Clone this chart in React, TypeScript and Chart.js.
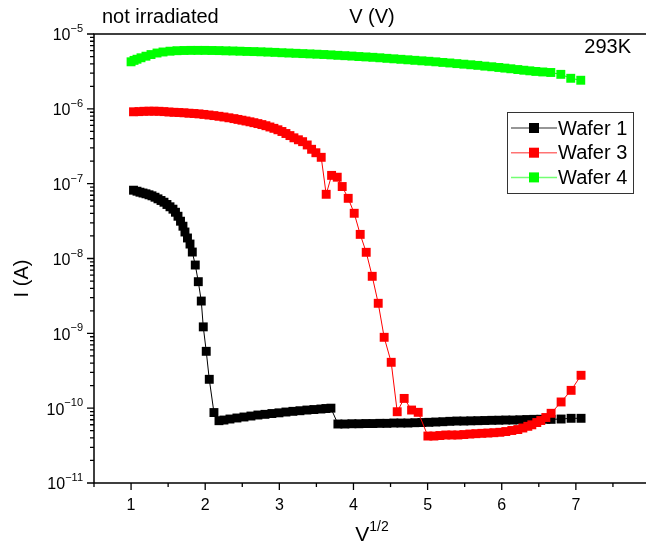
import React, { useEffect, useRef } from "react";
import { Chart, registerables } from "chart.js";

Chart.register(...registerables);

// ---- Data (x = V^1/2, I in A) ----
const wafer1X = [
  1.033, 1.08, 1.12, 1.161, 1.201, 1.242, 1.282, 1.323, 1.363, 1.404, 1.444, 1.484, 1.525, 1.565, 1.599, 1.633,
  1.667, 1.7, 1.727, 1.761, 1.795, 1.826, 1.866, 1.907, 1.947, 1.974, 2.014, 2.055, 2.118, 2.186, 2.253, 2.334,
  2.428, 2.523, 2.617, 2.711, 2.806, 2.9, 2.995, 3.089, 3.183, 3.278, 3.372, 3.466, 3.561, 3.628, 3.696, 3.79,
  3.884, 3.979, 4.073, 4.168, 4.262, 4.356, 4.451, 4.545, 4.64, 4.734, 4.828, 4.923, 5.017, 5.111, 5.206, 5.3,
  5.395, 5.489, 5.583, 5.678, 5.772, 5.866, 5.961, 6.055, 6.15, 6.244, 6.338, 6.433, 6.527, 6.595, 6.666, 6.801,
  6.936, 7.07,
];
const wafer1I = [
  8.18e-8, 7.93e-8, 7.69e-8, 7.5e-8, 7.32e-8, 7.1e-8, 6.88e-8, 6.59e-8, 6.27e-8, 5.96e-8, 5.65e-8, 5.27e-8,
  4.91e-8, 4.56e-8, 4.15e-8, 3.67e-8, 3.15e-8, 2.7e-8, 2.26e-8, 1.88e-8, 1.56e-8, 1.22e-8, 8.18e-9, 4.9e-9,
  2.7e-9, 1.22e-9, 5.75e-10, 2.43e-10, 8.74e-11, 6.8e-11, 6.94e-11, 7.16e-11, 7.39e-11, 7.62e-11, 7.85e-11,
  8.1e-11, 8.27e-11, 8.48e-11, 8.66e-11, 8.88e-11, 9.07e-11, 9.24e-11, 9.44e-11, 9.59e-11, 9.74e-11, 9.89e-11,
  1.0e-10, 6.14e-11, 6.14e-11, 6.19e-11, 6.19e-11, 6.23e-11, 6.23e-11, 6.27e-11, 6.27e-11, 6.33e-11, 6.33e-11,
  6.33e-11, 6.39e-11, 6.43e-11, 6.47e-11, 6.53e-11, 6.59e-11, 6.67e-11, 6.73e-11, 6.73e-11, 6.77e-11, 6.8e-11,
  6.84e-11, 6.88e-11, 6.9e-11, 6.94e-11, 6.94e-11, 6.99e-11, 7.05e-11, 7.09e-11, 7.11e-11, 7.11e-11, 7.09e-11,
  7.16e-11, 7.32e-11, 7.32e-11,
];

const wafer3X = [
  1.033, 1.107, 1.174, 1.242, 1.309, 1.377, 1.444, 1.511, 1.579, 1.646, 1.714, 1.781, 1.849, 1.916, 1.983, 2.051,
  2.118, 2.186, 2.253, 2.32, 2.388, 2.442, 2.496, 2.55, 2.604, 2.657, 2.711, 2.765, 2.819, 2.873, 2.927, 2.981,
  3.035, 3.089, 3.143, 3.197, 3.257, 3.314, 3.376, 3.435, 3.493, 3.565, 3.632, 3.705, 3.781, 3.848, 3.929, 4.01,
  4.091, 4.172, 4.253, 4.334, 4.414, 4.509, 4.59, 4.684, 4.784, 4.873, 5.004, 5.085, 5.166, 5.246, 5.327, 5.408,
  5.489, 5.57, 5.651, 5.732, 5.813, 5.894, 5.975, 6.055, 6.136, 6.217, 6.285, 6.352, 6.406, 6.473, 6.527, 6.595,
  6.666, 6.801, 6.936, 7.07,
];
const wafer3I = [
  9.13e-7, 9.18e-7, 9.27e-7, 9.3e-7, 9.3e-7, 9.27e-7, 9.18e-7, 9.07e-7, 8.99e-7, 8.93e-7, 8.85e-7, 8.74e-7,
  8.66e-7, 8.56e-7, 8.42e-7, 8.27e-7, 8.12e-7, 7.95e-7, 7.78e-7, 7.59e-7, 7.4e-7, 7.22e-7, 7.05e-7, 6.88e-7,
  6.71e-7, 6.53e-7, 6.35e-7, 6.16e-7, 5.95e-7, 5.72e-7, 5.49e-7, 5.25e-7, 4.98e-7, 4.68e-7, 4.39e-7, 4.1e-7,
  3.86e-7, 3.64e-7, 3.29e-7, 2.88e-7, 2.59e-7, 2.25e-7, 7.21e-8, 1.29e-7, 1.22e-7, 9.16e-8, 6.37e-8, 4.02e-8,
  2.1e-8, 1.21e-8, 5.78e-9, 2.52e-9, 8.85e-10, 4.1e-10, 8.96e-11, 1.35e-10, 9.44e-11, 8.8e-11, 4.24e-11,
  4.24e-11, 4.31e-11, 4.38e-11, 4.38e-11, 4.38e-11, 4.44e-11, 4.51e-11, 4.56e-11, 4.61e-11, 4.65e-11, 4.7e-11,
  4.76e-11, 4.87e-11, 5.03e-11, 5.18e-11, 5.43e-11, 5.72e-11, 5.99e-11, 6.43e-11, 6.84e-11, 7.5e-11, 8.54e-11,
  1.21e-10, 1.73e-10, 2.75e-10,
];

const wafer4X = [
  1.0, 1.04, 1.08, 1.134, 1.201, 1.269, 1.35, 1.431, 1.525, 1.619, 1.714, 1.808, 1.902, 1.997, 2.091, 2.186,
  2.28, 2.374, 2.469, 2.563, 2.657, 2.752, 2.846, 2.941, 3.035, 3.129, 3.224, 3.318, 3.413, 3.507, 3.601, 3.696,
  3.79, 3.884, 3.979, 4.073, 4.168, 4.262, 4.356, 4.451, 4.545, 4.64, 4.734, 4.828, 4.923, 5.017, 5.111, 5.206,
  5.3, 5.395, 5.489, 5.583, 5.678, 5.772, 5.866, 5.961, 6.042, 6.123, 6.217, 6.298, 6.379, 6.46, 6.554, 6.662,
  6.797, 6.931, 7.066,
];
const wafer4I = [
  4.25e-6, 4.44e-6, 4.6e-6, 4.81e-6, 5.05e-6, 5.31e-6, 5.57e-6, 5.75e-6, 5.89e-6, 5.98e-6, 6.02e-6, 6.04e-6,
  6.04e-6, 6.04e-6, 6.02e-6, 6.0e-6, 5.96e-6, 5.93e-6, 5.89e-6, 5.85e-6, 5.82e-6, 5.78e-6, 5.73e-6, 5.68e-6,
  5.62e-6, 5.57e-6, 5.52e-6, 5.47e-6, 5.42e-6, 5.37e-6, 5.32e-6, 5.26e-6, 5.19e-6, 5.13e-6, 5.07e-6, 5.0e-6,
  4.94e-6, 4.88e-6, 4.81e-6, 4.73e-6, 4.66e-6, 4.59e-6, 4.52e-6, 4.45e-6, 4.38e-6, 4.32e-6, 4.25e-6, 4.17e-6,
  4.1e-6, 4.02e-6, 3.95e-6, 3.88e-6, 3.81e-6, 3.72e-6, 3.65e-6, 3.57e-6, 3.5e-6, 3.43e-6, 3.35e-6, 3.28e-6,
  3.22e-6, 3.16e-6, 3.11e-6, 3.06e-6, 2.89e-6, 2.56e-6, 2.41e-6,
];

const seriesNames = ["Wafer 1", "Wafer 3", "Wafer 4"];
const seriesColors = ["#000000", "#ff0000", "#00ff00"];
const xMajorTicks = [1, 2, 3, 4, 5, 6, 7, 8];
const xMinorTicks = [0.5, 1.5, 2.5, 3.5, 4.5, 5.5, 6.5, 7.5];
const yDecades = [-11, -10, -9, -8, -7, -6, -5];
const yMinorMultipliers = [2, 3, 4, 5, 6, 7, 8, 9];
const xRange = [0.5, 8];
const yRange = [1e-11, 1e-5];

const FONT = '"Liberation Sans", Arial, Helvetica, sans-serif';

const toPoints = (xs: number[], ys: number[]) => xs.map((x, i) => ({ x, y: ys[i] }));

const decorPlugin = {
  id: "decor",
  afterDraw(chart: any) {
    const ctx: CanvasRenderingContext2D = chart.ctx;
    const xs = chart.scales.x;
    const ys = chart.scales.y;
    const { left, right, top, bottom } = chart.chartArea;
    ctx.save();
    ctx.strokeStyle = "#000";
    ctx.fillStyle = "#000";
    ctx.lineWidth = 1.5;
    // frame
    ctx.beginPath();
    ctx.moveTo(left, top);
    ctx.lineTo(right, top);
    ctx.lineTo(right, bottom);
    ctx.lineTo(left, bottom);
    ctx.closePath();
    ctx.stroke();

    // x ticks
    ctx.lineWidth = 1.3;
    ctx.beginPath();
    xMajorTicks.forEach((v) => {
      const px = xs.getPixelForValue(v);
      ctx.moveTo(px, bottom);
      ctx.lineTo(px, bottom + 7);
    });
    xMinorTicks.forEach((v) => {
      const px = xs.getPixelForValue(v);
      ctx.moveTo(px, bottom);
      ctx.lineTo(px, bottom + 4);
    });
    // y ticks
    yDecades.forEach((e) => {
      const py = ys.getPixelForValue(Math.pow(10, e));
      ctx.moveTo(left, py);
      ctx.lineTo(left - 7, py);
      if (e < -5) {
        yMinorMultipliers.forEach((m) => {
          const pm = ys.getPixelForValue(m * Math.pow(10, e));
          ctx.moveTo(left, pm);
          ctx.lineTo(left - 4, pm);
        });
      }
    });
    ctx.stroke();

    // x tick labels
    ctx.font = `16px ${FONT}`;
    ctx.textAlign = "center";
    ctx.textBaseline = "middle";
    xMajorTicks.forEach((v) => {
      ctx.fillText(String(v), xs.getPixelForValue(v), bottom + 23);
    });

    // y tick labels 10^e
    yDecades.forEach((e) => {
      const py = ys.getPixelForValue(Math.pow(10, e));
      const exp = "\u2212" + String(-e);
      ctx.font = `11px ${FONT}`;
      const we = ctx.measureText(exp).width;
      ctx.textAlign = "right";
      const xr = left - 11;
      ctx.fillText(exp, xr, py - 5);
      ctx.font = `16px ${FONT}`;
      ctx.fillText("10", xr - we, py + 2);
    });

    // axis titles
    const cx = (left + right) / 2;
    ctx.font = `21px ${FONT}`;
    const wV = ctx.measureText("V").width;
    ctx.font = `14px ${FONT}`;
    const wS = ctx.measureText("1/2").width;
    const sx = cx - (wV + wS) / 2;
    ctx.textAlign = "left";
    ctx.font = `21px ${FONT}`;
    ctx.fillText("V", sx, bottom + 52);
    ctx.font = `14px ${FONT}`;
    ctx.fillText("1/2", sx + wV, bottom + 44);

    ctx.font = `20px ${FONT}`;
    ctx.textAlign = "center";
    ctx.fillText("V (V)", cx, top - 17);
    ctx.textAlign = "left";
    ctx.fillText("not irradiated", left + 8, top - 17);
    ctx.textAlign = "right";
    ctx.fillText("293K", 631, top + 13);

    ctx.save();
    ctx.translate(22, (top + bottom) / 2 + 20);
    ctx.rotate(-Math.PI / 2);
    ctx.textAlign = "center";
    ctx.fillText("I (A)", 0, 0);
    ctx.restore();

    // legend
    const bx = 507.5, by = 112.5, bw = 126, bh = 81;
    ctx.fillStyle = "#fff";
    ctx.fillRect(bx, by, bw, bh);
    ctx.strokeStyle = "#333";
    ctx.lineWidth = 1;
    ctx.strokeRect(bx, by, bw, bh);
    seriesNames.forEach((name, i) => {
      const ry = 128 + i * 24.7;
      ctx.strokeStyle = seriesColors[i];
      ctx.globalAlpha = 0.55;
      ctx.lineWidth = 1.5;
      ctx.beginPath();
      ctx.moveTo(511, ry);
      ctx.lineTo(557, ry);
      ctx.stroke();
      ctx.globalAlpha = 1;
      ctx.fillStyle = seriesColors[i];
      ctx.fillRect(529, ry - 5, 10, 10);
      ctx.fillStyle = "#000";
      ctx.font = `20px ${FONT}`;
      ctx.textAlign = "left";
      ctx.textBaseline = "middle";
      ctx.fillText(name, 558, ry + 1);
    });
    ctx.restore();
  },
};

export default function App() {
  const ref = useRef<HTMLCanvasElement>(null);
  useEffect(() => {
    if (!ref.current) return;
    const datasets = [
      { xs: wafer1X, ys: wafer1I },
      { xs: wafer3X, ys: wafer3I },
      { xs: wafer4X, ys: wafer4I },
    ].map((s, i) => ({
      label: seriesNames[i],
      data: toPoints(s.xs, s.ys),
      showLine: true,
      borderColor: seriesColors[i],
      backgroundColor: seriesColors[i],
      borderWidth: 1,
      pointStyle: "rect" as const,
      pointRadius: 6.3,
      pointHoverRadius: 6.3,
      pointBorderWidth: 0,
      pointBackgroundColor: seriesColors[i],
      order: 3 - i,
    }));
    const chart = new Chart(ref.current, {
      type: "scatter",
      data: { datasets },
      options: {
        responsive: false,
        animation: false,
        devicePixelRatio: 1,
        layout: { padding: { left: 94, top: 34, right: 50, bottom: 63 } },
        scales: {
          x: { type: "linear", min: xRange[0], max: xRange[1], display: false },
          y: { type: "logarithmic", min: yRange[0], max: yRange[1], display: false },
        },
        plugins: { legend: { display: false }, tooltip: { enabled: false } },
      },
      plugins: [decorPlugin],
    });
    return () => chart.destroy();
  }, []);
  return (
    <div
      style={{
        position: "fixed",
        left: 0,
        top: 0,
        width: 646,
        height: 546,
        overflow: "hidden",
        background: "#fff",
      }}
    >
      <canvas ref={ref} width={700} height={546} style={{ display: "block", width: 700, height: 546 }} />
    </div>
  );
}
